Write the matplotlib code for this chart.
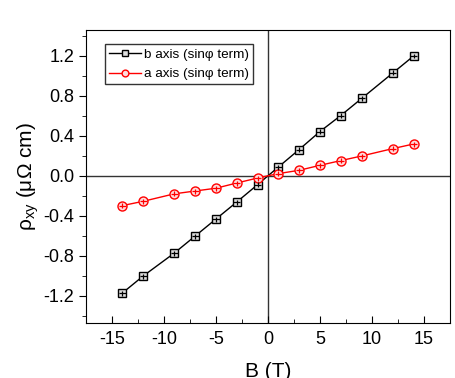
"""Hall resistivity rho_xy vs field B for b and a axes (sin-phi term)."""

import matplotlib

matplotlib.use("Agg")
import matplotlib.pyplot as plt
from matplotlib.ticker import MultipleLocator

plt.rcParams["font.family"] = ["Liberation Sans", "DejaVu Sans"]
plt.rcParams["mathtext.default"] = "regular"

field_t = [-14, -12, -9, -7, -5, -3, -1, 1, 3, 5, 7, 9, 12, 14]
rho_b = [-1.17, -1.00, -0.77, -0.60, -0.43, -0.26, -0.086,
         0.09, 0.265, 0.445, 0.605, 0.775, 1.03, 1.20]
rho_a = [-0.296, -0.253, -0.178, -0.150, -0.122, -0.070, -0.020,
         0.024, 0.057, 0.107, 0.154, 0.200, 0.274, 0.320]
err_b = [0.025] * len(field_t)
err_a = [0.025] * len(field_t)
x_ticks = [-15, -10, -5, 0, 5, 10, 15]
y_ticks = [-1.2, -0.8, -0.4, 0.0, 0.4, 0.8, 1.2]

fig = plt.figure(figsize=(4.55, 3.78), dpi=100)
ax = fig.add_axes([86 / 455, 1 - 323 / 378, 364 / 455, 293 / 378])

ax.axhline(0, color="#333333", lw=1.0, zorder=1)
ax.axvline(0, color="#333333", lw=1.0, zorder=1)

ax.plot(field_t, rho_b, color="black", lw=1.0, marker="s", ms=5.5,
        mfc="#dddddd", mec="black", mew=1.0, label="b axis (sinφ term)", zorder=3)
ax.plot(field_t, rho_a, color="red", lw=1.0, marker="o", ms=6.5,
        mfc="#ffdddd", mec="red", mew=1.0, label="a axis (sinφ term)", zorder=3)
ax.errorbar(field_t, rho_b, yerr=err_b, xerr=0.35, fmt="none", ecolor="black",
            elinewidth=0.9, capsize=0, zorder=4)
ax.errorbar(field_t, rho_a, yerr=err_a, xerr=0.35, fmt="none", ecolor="red",
            elinewidth=0.9, capsize=0, zorder=4)

ax.set_xlim(-17.5, 17.5)
ax.set_ylim(-1.47, 1.46)
ax.set_xticks(x_ticks)
ax.set_xticklabels([str(v) for v in x_ticks])
ax.set_yticks(y_ticks)
ax.set_yticklabels([f"{v:.1f}" for v in y_ticks])
ax.xaxis.set_minor_locator(MultipleLocator(2.5))
ax.yaxis.set_minor_locator(MultipleLocator(0.2))
ax.tick_params(axis="x", which="both", direction="in", labelsize=13, pad=6)
ax.tick_params(axis="y", which="both", direction="out", labelsize=13)
ax.tick_params(which="major", length=5)
ax.tick_params(which="minor", length=3)

ax.set_xlabel("B (T)", fontsize=15, labelpad=10)
ax.set_ylabel("ρ$_{xy}$ (μΩ cm)", fontsize=15, labelpad=2)

leg = ax.legend(loc="upper left", bbox_to_anchor=(0.052, 0.952), fontsize=9.7,
                frameon=True, fancybox=False, edgecolor="black",
                borderaxespad=0, markerscale=0.75,
                handlelength=2.4, borderpad=0.3, labelspacing=0.55,
                handletextpad=0.2)
leg.get_frame().set_linewidth(1.0)

fig.savefig("out.png", dpi=100)
